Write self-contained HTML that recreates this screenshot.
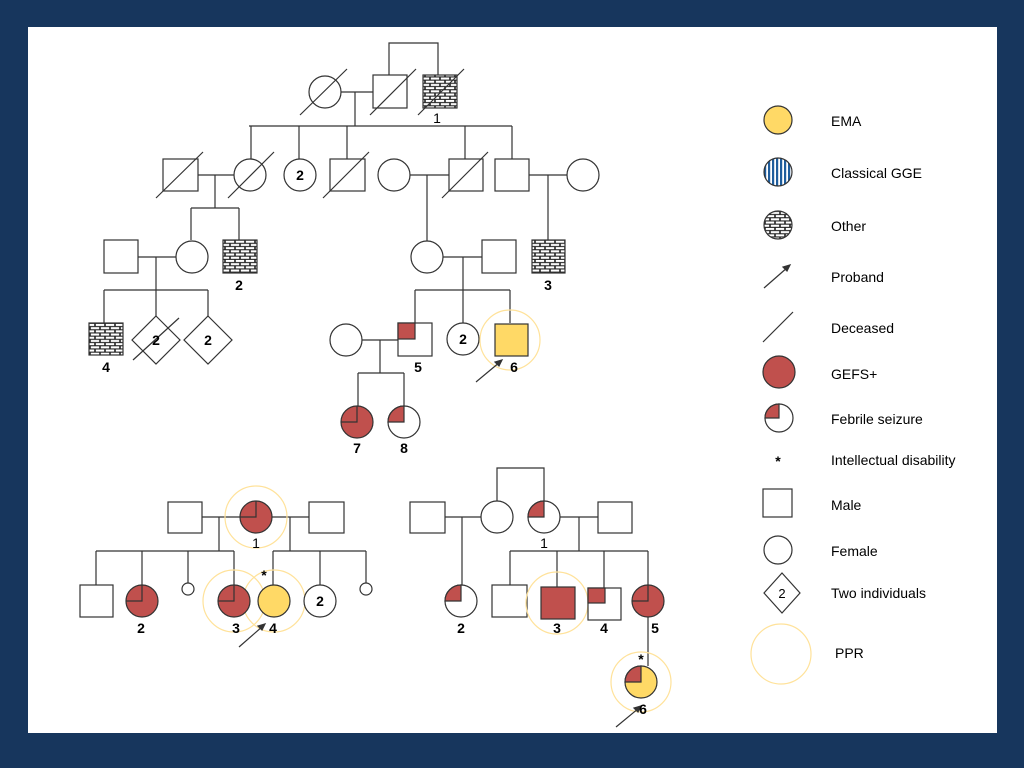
<!DOCTYPE html>
<html><head><meta charset="utf-8"><style>
html,body{margin:0;padding:0;background:#17365d;}
svg{display:block}
text{font-family:"Liberation Sans",sans-serif;fill:#000}
</style></head><body>
<svg width="1024" height="768" viewBox="0 0 1024 768" xmlns="http://www.w3.org/2000/svg">
<defs>
<pattern id="brick" width="10" height="6.4" patternUnits="userSpaceOnUse">
<rect width="10" height="6.4" fill="#222"/>
<rect x="0.8" y="0.7" width="8.4" height="2.1" fill="#fff"/>
<rect x="-4.2" y="3.9" width="8.4" height="2.1" fill="#fff"/>
<rect x="5.8" y="3.9" width="8.4" height="2.1" fill="#fff"/>
</pattern>
<pattern id="stripe" width="4" height="4" patternUnits="userSpaceOnUse">
<rect width="4" height="4" fill="#fff"/><rect width="2.2" height="4" fill="#1f5d9c"/>
</pattern>
</defs>
<rect x="28" y="27" width="969" height="706" fill="#fff"/>
<g stroke="#333" stroke-width="1.2" fill="none">
<!-- Top pedigree Gen I -->
<path d="M389 75 V43 H438 V75"/>
<path d="M341 92 H373 M355 92 V126 M249 126 H512"/>
<path d="M251 126 V159 M299 126 V159 M347 126 V159 M465 126 V159 M512 126 V159"/>
<circle cx="325" cy="92" r="16" fill="#fff"/>
<rect x="373" y="75" width="34" height="33" fill="#fff"/>
<rect x="423" y="75" width="34" height="33" fill="url(#brick)"/>
<path d="M300 115 L347 69 M370 115 L416 69 M418 115 L464 69"/>
<!-- Gen II -->
<path d="M198 175 H234 M215 175 V208 M191 208 H239 M191 208 V240 M239 208 V240"/>
<path d="M410 175 H449 M427 175 V241"/>
<path d="M529 175 H567 M548 175 V240"/>
<rect x="163" y="159" width="35" height="32" fill="#fff"/>
<circle cx="250" cy="175" r="16" fill="#fff"/>
<circle cx="300" cy="175" r="16" fill="#fff"/>
<rect x="330" y="159" width="35" height="32" fill="#fff"/>
<circle cx="394" cy="175" r="16" fill="#fff"/>
<rect x="449" y="159" width="34" height="32" fill="#fff"/>
<rect x="495" y="159" width="34" height="32" fill="#fff"/>
<circle cx="583" cy="175" r="16" fill="#fff"/>
<path d="M156 198 L203 152 M228 198 L274 152 M323 198 L369 152 M442 198 L488 152"/>
<!-- Gen III -->
<path d="M138 257 H176 M156 257 V330 M104 290 H208 M104 290 V323 M208 290 V317"/>
<path d="M443 257 H482 M463 257 V323 M415 290 H510 M415 290 V323 M510 290 V323"/>
<rect x="104" y="240" width="34" height="33" fill="#fff"/>
<circle cx="192" cy="257" r="16" fill="#fff"/>
<rect x="223" y="240" width="34" height="33" fill="url(#brick)"/>
<circle cx="427" cy="257" r="16" fill="#fff"/>
<rect x="482" y="240" width="34" height="33" fill="#fff"/>
<rect x="532" y="240" width="33" height="33" fill="url(#brick)"/>
<!-- Gen IV left -->
<rect x="89" y="323" width="34" height="32" fill="url(#brick)"/>
<path d="M156 316 L180 340 L156 364 L132 340 Z" fill="#fff"/>
<path d="M208 316 L232 340 L208 364 L184 340 Z" fill="#fff"/>
<path d="M133 360 L179 318"/>
<!-- Gen IV right -->
<path d="M362 340 H398 M380 340 V373 M358 373 H404 M358 373 V406 M404 373 V406"/>
<circle cx="346" cy="340" r="16" fill="#fff"/>
<rect x="398" y="323" width="34" height="33" fill="#fff"/>
<rect x="398" y="323" width="17" height="16" fill="#c0504d"/>
<circle cx="463" cy="339" r="16" fill="#fff"/>
<circle cx="510" cy="340" r="30" stroke="#ffe29a" stroke-width="1.2"/>
<rect x="495" y="324" width="33" height="32" fill="#ffd966"/>
<path d="M476 382 L500 362" stroke="#333"/>
<path d="M502 360 l-7 2 l4 4 z" fill="#333"/>
<!-- Gen V -->
<circle cx="357" cy="422" r="16" fill="#c0504d"/>
<path d="M357 406 V422 H341"/>
<circle cx="404" cy="422" r="16" fill="#fff"/>
<path d="M404 422 H388 A16 16 0 0 1 404 406 Z" fill="#c0504d"/>

<!-- Bottom-left family -->
<path d="M202 517 H240 M272 517 H309 M219 517 V551 M290 517 V551"/>
<path d="M96 551 H234 M273 551 H366"/>
<path d="M96 551 V585 M142 551 V585 M188 551 V583 M234 551 V585 M273 551 V585 M320 551 V585 M366 551 V583"/>
<rect x="168" y="502" width="34" height="31" fill="#fff"/>
<rect x="309" y="502" width="35" height="31" fill="#fff"/>
<circle cx="256" cy="517" r="31" stroke="#ffe29a"/>
<circle cx="256" cy="517" r="16" fill="#c0504d"/>
<path d="M256 501 V517 H240"/>
<rect x="80" y="585" width="33" height="32" fill="#fff"/>
<circle cx="142" cy="601" r="16" fill="#c0504d"/>
<path d="M142 585 V601 H126"/>
<circle cx="188" cy="589" r="6" fill="#fff"/>
<circle cx="234" cy="601" r="31" stroke="#ffe29a"/>
<circle cx="274" cy="601" r="31" stroke="#ffe29a"/>
<circle cx="234" cy="601" r="16" fill="#c0504d"/>
<path d="M234 585 V601 H218"/>
<circle cx="274" cy="601" r="16" fill="#ffd966"/>
<circle cx="320" cy="601" r="16" fill="#fff"/>
<circle cx="366" cy="589" r="6" fill="#fff"/>
<path d="M239 647 L263 626"/>
<path d="M265 624 l-7 2 l4 4 z" fill="#333"/>

<!-- Bottom-right family -->
<path d="M497 501 V468 H544 V501"/>
<path d="M445 517 H481 M462 517 V585 M560 517 H598 M579 517 V551 M510 551 H648"/>
<path d="M510 551 V585 M557 551 V587 M604 551 V588 M648 551 V585 M648 617 V666"/>
<rect x="410" y="502" width="35" height="31" fill="#fff"/>
<circle cx="497" cy="517" r="16" fill="#fff"/>
<circle cx="544" cy="517" r="16" fill="#fff"/>
<path d="M544 517 H528 A16 16 0 0 1 544 501 Z" fill="#c0504d"/>
<rect x="598" y="502" width="34" height="31" fill="#fff"/>
<circle cx="461" cy="601" r="16" fill="#fff"/>
<path d="M461 601 H445 A16 16 0 0 1 461 585 Z" fill="#c0504d"/>
<rect x="492" y="585" width="35" height="32" fill="#fff"/>
<circle cx="557" cy="603" r="31" stroke="#ffe29a"/>
<rect x="541" y="587" width="34" height="32" fill="#c0504d"/>
<rect x="588" y="588" width="33" height="32" fill="#fff"/>
<rect x="588" y="588" width="17" height="15" fill="#c0504d"/>
<circle cx="648" cy="601" r="16" fill="#c0504d"/>
<path d="M648 585 V601 H632"/>
<circle cx="641" cy="682" r="30" stroke="#ffe29a"/>
<circle cx="641" cy="682" r="16" fill="#ffd966"/>
<path d="M641 682 H625 A16 16 0 0 1 641 666 Z" fill="#c0504d"/>
<path d="M616 727 L639 708"/>
<path d="M641 706 l-7 2 l4 4 z" fill="#333"/>

<!-- Legend -->
<circle cx="778" cy="120" r="14" fill="#ffd966"/>
<circle cx="778" cy="172" r="14" fill="url(#stripe)"/>
<circle cx="778" cy="225" r="14" fill="url(#brick)"/>
<path d="M764 288 L788 267"/>
<path d="M790 265 l-7 2 l4 4 z" fill="#333"/>
<path d="M763 342 L793 312"/>
<circle cx="779" cy="372" r="16" fill="#c0504d"/>
<circle cx="779" cy="418" r="14" fill="#fff"/>
<path d="M779 418 H765 A14 14 0 0 1 779 404 Z" fill="#c0504d"/>
<rect x="763" y="489" width="29" height="28" fill="#fff"/>
<circle cx="778" cy="550" r="14" fill="#fff"/>
<path d="M782 573 L800 593 L782 613 L764 593 Z" fill="#fff"/>
<circle cx="781" cy="654" r="30" stroke="#ffe29a"/>
</g>
<g font-size="14" font-weight="bold" text-anchor="middle">
<text x="437" y="123" font-weight="normal">1</text>
<text x="300" y="180">2</text>
<text x="239" y="290">2</text>
<text x="548" y="290">3</text>
<text x="106" y="372">4</text>
<text x="156" y="345">2</text>
<text x="208" y="345">2</text>
<text x="463" y="344">2</text>
<text x="418" y="372">5</text>
<text x="514" y="372">6</text>
<text x="357" y="453">7</text>
<text x="404" y="453">8</text>
<text x="256" y="548" font-weight="normal">1</text>
<text x="141" y="633">2</text>
<text x="236" y="633">3</text>
<text x="273" y="633">4</text>
<text x="320" y="606">2</text>
<text x="264" y="580">*</text>
<text x="544" y="548" font-weight="normal">1</text>
<text x="461" y="633">2</text>
<text x="557" y="633">3</text>
<text x="604" y="633">4</text>
<text x="655" y="633">5</text>
<text x="641" y="664">*</text>
<text x="643" y="714">6</text>
<text x="778" y="466">*</text>
<text x="782" y="598" font-weight="normal" font-size="13">2</text>
</g>
<g font-size="14">
<text x="831" y="126">EMA</text>
<text x="831" y="178">Classical GGE</text>
<text x="831" y="231">Other</text>
<text x="831" y="282">Proband</text>
<text x="831" y="333">Deceased</text>
<text x="831" y="379">GEFS+</text>
<text x="831" y="424">Febrile seizure</text>
<text x="831" y="465">Intellectual disability</text>
<text x="831" y="510">Male</text>
<text x="831" y="556">Female</text>
<text x="831" y="598">Two individuals</text>
<text x="835" y="658">PPR</text>
</g>
</svg>
</body></html>
